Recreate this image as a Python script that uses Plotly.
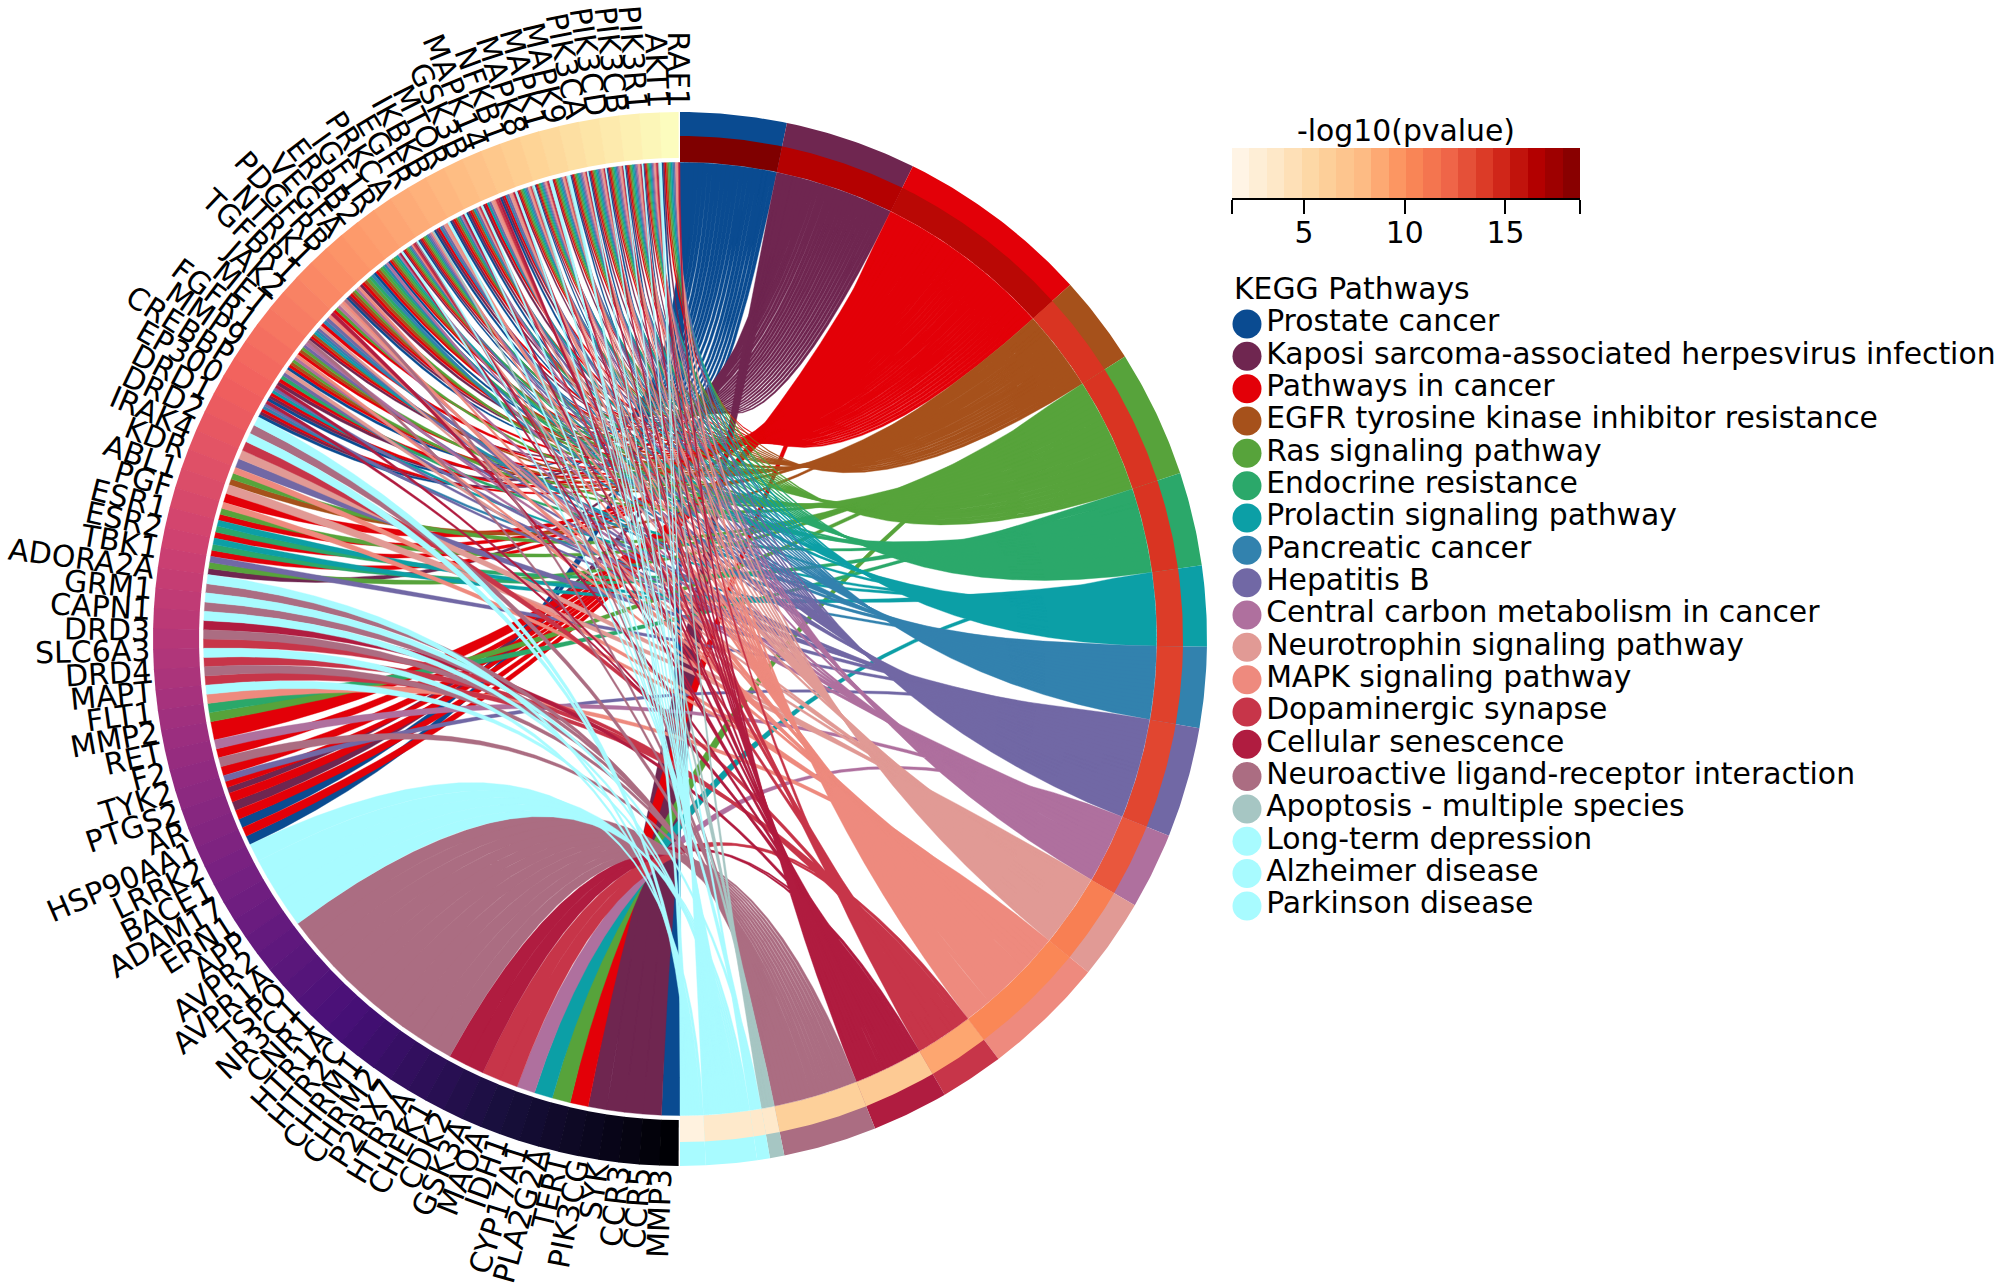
import numpy as np
import plotly.graph_objects as go
from plotly.colors import sample_colorscale

# ---------- data ----------
pathways = ["Prostate cancer", "Kaposi sarcoma-associated herpesvirus infection", "Pathways in cancer",
            "EGFR tyrosine kinase inhibitor resistance", "Ras signaling pathway", "Endocrine resistance",
            "Prolactin signaling pathway", "Pancreatic cancer", "Hepatitis B",
            "Central carbon metabolism in cancer", "Neurotrophin signaling pathway", "MAPK signaling pathway",
            "Dopaminergic synapse", "Cellular senescence", "Neuroactive ligand-receptor interaction",
            "Apoptosis - multiple species", "Long-term depression", "Alzheimer disease", "Parkinson disease"]
pathway_codes = "PKCERNLAHMTSDOVGQZW"
pathway_colors = ["#0A4B91", "#6F2650", "#E30008", "#A6511B", "#57A33B", "#2BA86A", "#0C9FA6", "#3282AE",
                  "#7168A5", "#AF709E", "#E19A95", "#EE8A7E", "#C73549", "#B01C40", "#AB6D82", "#A6C6C3",
                  "#A8FBFF", "#A8FBFF", "#A8FBFF"]
pathway_gene_count = [25, 31, 46, 21, 30, 22, 19, 19, 26, 18, 19, 29, 15, 18, 22, 3.4, 3, 12, 6]
pathway_log10p = [18.7, 16.5, 16.2, 14.2, 14.2, 14.2, 13.9, 13.7, 13.5, 12.8, 10.8, 10.4, 8.9, 6.6, 6.1,
                  3.4, 3.4, 3.4, 2.2]

genes = ["RAF1", "AKT1", "PIK3R1", "PIK3CB", "PIK3CD", "PIK3CA", "MAPK9", "MAPK1", "MAPK8", "NFKB1", "MAPK14",
         "GSK3B", "MTOR", "IKBKB", "EGFR", "PRKCA", "IGF1R", "ERBB2", "VEGFA", "PDGFRB", "NTRK1", "TGFBR1",
         "JAK2", "MET", "FGFR1", "MMP9", "CREBBP", "EP300", "DRD1", "DRD2", "IRAK4", "KDR", "ABL1", "PGF",
         "ESR1", "ESR2", "TBK1", "ADORA2A", "GRM1", "CAPN1", "DRD3", "SLC6A3", "DRD4", "MAPT", "FLT1", "MMP2",
         "RET", "F2", "TYK2", "PTGS2", "AR", "HSP90AA1", "LRRK2", "BACE1", "ADAM17", "ERN1", "APP", "AVPR2",
         "AVPR1A", "TSPO", "NR3C1", "CNR1", "HTR1A", "HTR2C", "CHRM1", "CHRM2", "P2RX7", "HTR2A", "CHEK1",
         "CDK2", "GSK3A", "MAOA", "IDH1", "CYP17A1", "PLA2G2A", "TERT", "PIK3CG", "SYK", "CCR3", "CCR5", "MMP3"]
gene_links = ["PKCERNLAHTSO", "PKCERNLAHMTSDOZWG", "PKCERNLAHMTSOZ", "PKCERNLAHMTSOZ", "PKCERNLAHMTSOZ",
              "PKCERNLAHMTSOZ", "KCERNLAHTSDZWG", "PKCERNLAHMTSDOQZW", "KCERNLAHTSDZG", "PKCAHTSOZ", "KCLHTSDO",
              "PKCDLTHZE", "PKCENMAOZ", "PKCAHTSZ", "PKCERNAMSGH", "KCERNAHSDQVO", "PCERNLMOQ", "PCERNAM", "KCERAN",
              "PKCERMS", "CRTSMV", "CAHSO", "KCELAHT", "CERMHV", "PCERMS", "CNHKT", "PKCHOL", "PKCHOA",
              "WV", "WD", "TH", "SRE", "TC", "SRC", "LNC", "LNC", "HRK", "WV", "QV", "ZO", "VD", "WD", "VD", "ZS",
              "NR", "C", "MC", "VC", "HKC", "KC", "PC", "PC", "W", "Z", "Z", "Z", "Z", "V", "V", "V", "V", "V", "V",
              "V", "V", "V", "V", "V", "O", "O", "D", "D", "M", "L", "R", "C", "K", "K", "K", "K", "P"]
scale_min, scale_max = 1.43, 18.7
scale_ticks = [scale_min, 5, 10, 15, scale_max]
scale_labels = ["", "5", "10", "15", ""]

# ---------- geometry ----------
R_OUT, R_GENE_IN, R_CHORD, R_HEAT_OUT, R_HEAT_IN = 527, 481, 476.5, 503, 477
CX, CY = 680, 639
W, H = 2000, 1288
FONT = "DejaVu Sans"
LABEL_SIZE, TEXT_SIZE = 30, 29.85
EM = dict(zip("ABCDEFGHIJKLMNOPQRSTUVWXYZ",
              [.684, .686, .698, .770, .632, .575, .775, .752, .295, .295, .656, .557, .863, .748, .787, .603, .787,
               .695, .635, .611, .732, .684, .989, .685, .611, .685]))


def xy(theta_deg, r):
    t = np.radians(np.asarray(theta_deg, dtype=float))
    return r * np.sin(t), r * np.cos(t)


def band(t1, t2, r1, r2):
    n = max(3, int(abs(t2 - t1)) * 2 + 3)
    t = np.concatenate([np.linspace(t1, t2, n), np.linspace(t2, t1, n)])
    r = np.concatenate([np.full(n, r1), np.full(n, r2)])
    return xy(t, r)


def bez(t_a, t_b, r):
    xa, ya = xy(t_a, r)
    xb, yb = xy(t_b, r)
    s = np.linspace(0, 1, 26)
    return (1 - s) ** 2 * xa + s ** 2 * xb, (1 - s) ** 2 * ya + s ** 2 * yb


n_genes = len(genes)
sector = 180.0 / n_genes
sizes = np.array(pathway_gene_count, float)
edges = np.concatenate([[0], np.cumsum(sizes / sizes.sum() * 180)])

# links of each pathway, in gene order
members = {c: [i for i, s in enumerate(gene_links) if c in s] for c in pathway_codes}

# position of each link on its gene sector (phi measured anticlockwise from the top)
gene_slot = {}
for i, s in enumerate(gene_links):
    order = sorted(s, key=lambda c: -pathway_codes.index(c))
    w = sector / len(order)
    for k, c in enumerate(order):
        gene_slot[(i, c)] = (i * sector + k * w, i * sector + (k + 1) * w)

fig = go.Figure()


def poly(xs, ys, color, edge=0):
    fig.add_trace(go.Scatter(x=xs, y=ys, mode="lines", fill="toself", fillcolor=color,
                             line=dict(width=edge, color=color), hoverinfo="skip", showlegend=False))


# chords: inside a pathway the first gene takes the far end of the arc, so the links cross in a neck
for p, c in enumerate(pathway_codes):
    xs, ys = [], []
    mem = members[c]
    w = (edges[p + 1] - edges[p]) / max(1, len(mem))
    for k, g in enumerate(mem):
        f1, f2 = gene_slot[(g, c)]
        t_hi, t_lo = edges[p + 1] - k * w, edges[p + 1] - (k + 1) * w
        ax, ay = xy(np.linspace(-f1, -f2, 4), R_CHORD)
        b1x, b1y = bez(-f2, t_hi, R_CHORD)
        cx, cy = xy(np.linspace(t_hi, t_lo, 4), R_CHORD)
        b2x, b2y = bez(t_lo, -f1, R_CHORD)
        xs += list(np.concatenate([ax, b1x, cx, b2x])) + [None]
        ys += list(np.concatenate([ay, b1y, cy, b2y])) + [None]
    poly(xs, ys, pathway_colors[p], edge=0.4)

# pathway ring and p-value ring
heat_t = [(v - scale_min) / (scale_max - scale_min) for v in pathway_log10p]
heat_colors = sample_colorscale("OrRd", heat_t)
for p in range(len(pathways)):
    poly(*band(edges[p], edges[p + 1], R_HEAT_IN, R_OUT), pathway_colors[p])
for p in range(len(pathways)):
    poly(*band(edges[p], edges[p + 1], R_HEAT_IN, R_HEAT_OUT), heat_colors[p])

# gene ring
gene_colors = sample_colorscale("Magma", [1 - i / (n_genes - 1) * 0.995 - 0.003 for i in range(n_genes)])
gap = 0.15
for i in range(n_genes):
    a = max(gap, i * sector - 0.03)
    b = min(180 - gap, (i + 1) * sector + 0.03)
    poly(*band(-a, -b, R_GENE_IN, R_OUT), gene_colors[i])

# gene labels
annotations = []
for i, g in enumerate(genes):
    phi = (i + 0.5) * sector - 1.0
    width = LABEL_SIZE * sum(EM.get(ch, .636) for ch in g)
    x, y = xy(-phi, R_OUT + 3 + width / 2)
    annotations.append(dict(x=float(x), y=float(y), xref="x", yref="y", text=g, showarrow=False, textangle=90 - phi,
                            xanchor="center", yanchor="middle", font=dict(family=FONT, size=LABEL_SIZE, color="black")))

# p-value colour scale
levels = np.linspace(scale_min, scale_max, 21)
mids = (levels[:-1] + levels[1:]) / 2
fig.add_trace(go.Heatmap(x=mids, y=[0], z=[list(mids)], zmin=scale_min, zmax=scale_max, colorscale="OrRd",
                         showscale=False, hoverinfo="skip", xaxis="x2", yaxis="y2"))
annotations.append(dict(x=(scale_min + scale_max) / 2, y=1, xref="x2", yref="y2 domain", yanchor="bottom",
                        yshift=-2, text="-log10(pvalue)", showarrow=False,
                        font=dict(family=FONT, size=TEXT_SIZE, color="black")))

# legend
fig.add_trace(go.Scatter(x=[0] * len(pathways), y=pathways, mode="markers+text", text=pathways,
                         textposition="middle right", textfont=dict(family=FONT, size=TEXT_SIZE, color="black"),
                         marker=dict(size=29, color=pathway_colors), hoverinfo="skip", showlegend=False,
                         xaxis="x3", yaxis="y3", cliponaxis=False))
annotations.append(dict(x=-15, y=-1, xref="x3", yref="y3", yshift=3, text="KEGG Pathways", showarrow=False,
                        xanchor="left", font=dict(family=FONT, size=TEXT_SIZE, color="black")))

hidden = dict(visible=False, showgrid=False, zeroline=False)
leg_top, leg_step = 324, 32.33
leg_bot = leg_top + leg_step * (len(pathways) - 1)
fig.update_layout(
    width=W, height=H, margin=dict(l=0, r=0, t=0, b=0), paper_bgcolor="white", plot_bgcolor="rgba(0,0,0,0)",
    showlegend=False, annotations=annotations,
    xaxis=dict(range=[-CX, W - CX], domain=[0, 1], **hidden),
    yaxis=dict(range=[CY - H, CY], domain=[0, 1], **hidden),
    xaxis2=dict(domain=[1232 / W, 1580 / W], range=[scale_min, scale_max], anchor="y2", tickmode="array",
                tickvals=scale_ticks, ticktext=scale_labels, ticks="outside", ticklen=14, tickwidth=2,
                tickcolor="black", showline=True, linecolor="black", linewidth=2, showgrid=False, zeroline=False,
                ticklabelstandoff=-7, tickfont=dict(family=FONT, size=TEXT_SIZE, color="black")),
    yaxis2=dict(domain=[1 - 198 / H, 1 - 148 / H], anchor="x2", **hidden),
    xaxis3=dict(domain=[1215 / W, 1], range=[-32, W - 1247], anchor="y3", **hidden),
    yaxis3=dict(domain=[1 - (leg_bot + leg_step) / H, 1 - (leg_top - 2 * leg_step) / H], anchor="x3",
                type="category", categoryorder="array", categoryarray=pathways, **hidden),
)
fig.update_yaxes(range=[len(pathways), -2], selector=dict(type="category"))
fig.write_html("out.html", config={"displayModeBar": False},
               post_script="document.body.style.margin='0';document.documentElement.style.overflow='hidden';")
